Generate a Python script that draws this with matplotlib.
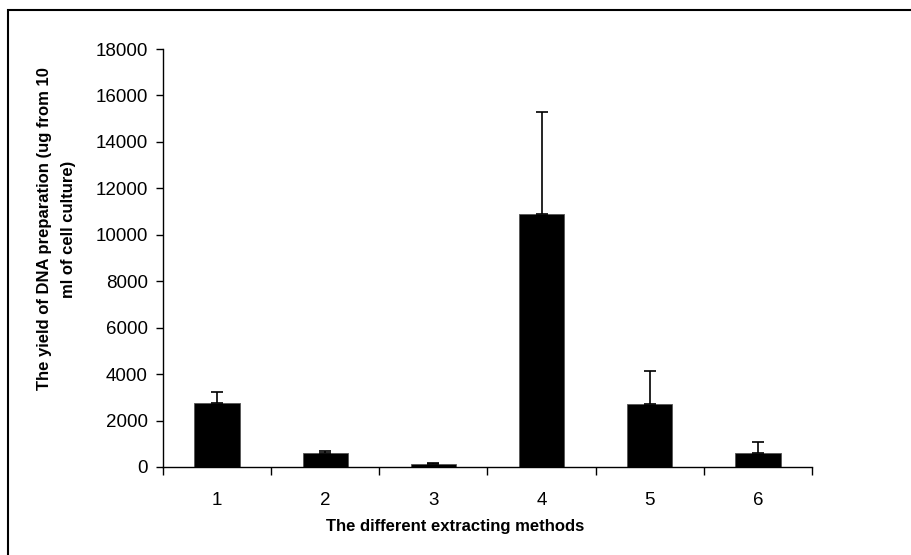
import matplotlib.pyplot as plt
from matplotlib.patches import Rectangle
import numpy as np

methods = ["1", "2", "3", "4", "5", "6"]
yield_means = [2770, 620, 140, 10900, 2710, 620]
yield_errors = [450, 70, 20, 4400, 1430, 470]
y_ticks = [0, 2000, 4000, 6000, 8000, 10000, 12000, 14000, 16000, 18000]

plt.rcParams["font.family"] = ["Liberation Sans", "DejaVu Sans"]

fig = plt.figure(figsize=(9.11, 5.55), dpi=100)
ax = fig.add_axes([0.1789, 0.1586, 0.7124, 0.7531])

x = np.arange(len(methods))
ax.bar(x, yield_means, width=0.42, color="black", edgecolor="#555555", linewidth=0.6)
ax.errorbar(x, yield_means, yerr=[np.zeros(len(x)), yield_errors], fmt="none",
            ecolor="black", elinewidth=1.2, capsize=4.5, capthick=1.2)

ax.set_xlim(-0.5, len(methods) - 0.5)
ax.set_ylim(0, 18000)
ax.set_yticks(y_ticks)
ax.set_yticklabels([str(v) for v in y_ticks], fontsize=13.5)
ax.tick_params(axis="y", direction="out", length=5, width=1, pad=6)

# category boundaries as major ticks, labels on minor ticks at centers
ax.set_xticks(np.arange(-0.5, len(methods), 1.0))
ax.set_xticklabels([])
ax.set_xticks(x, minor=True)
ax.set_xticklabels(methods, minor=True, fontsize=13.5)
ax.tick_params(axis="x", which="major", direction="out", length=6, width=1)
ax.tick_params(axis="x", which="minor", length=0, pad=18)

for side in ["top", "right"]:
    ax.spines[side].set_visible(False)
for side in ["left", "bottom"]:
    ax.spines[side].set_linewidth(1)

fig.text(455 / 911, 1 - 527 / 555, "The different extracting methods",
         ha="center", va="center", fontsize=12, fontweight="bold")
fig.text(57 / 911, 1 - 229 / 555,
         "The yield of DNA preparation (ug from 10\nml of cell culture)",
         ha="center", va="center", rotation=90, fontsize=12,
         fontweight="bold", linespacing=1.75)

# outer border like the exported chart area
fig.patches.append(Rectangle((8 / 911, -0.1), 1.2, 1.1 - 10 / 555,
                             transform=fig.transFigure, fill=False,
                             edgecolor="black", linewidth=1.5))

fig.savefig("out.png", dpi=100)
